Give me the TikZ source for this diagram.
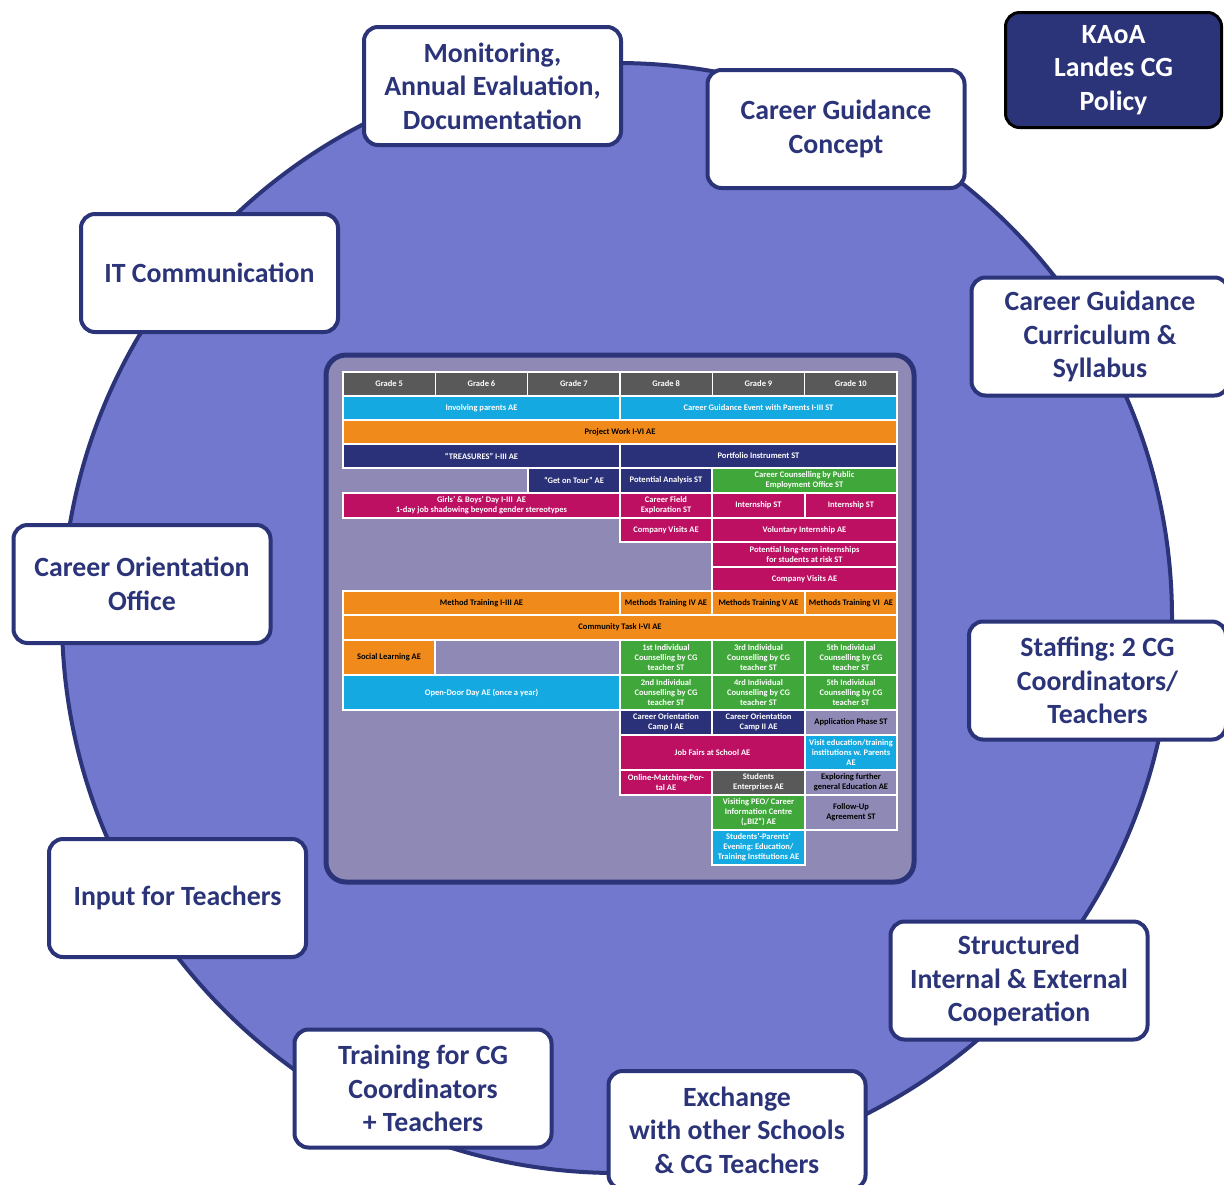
\documentclass[tikz,border=0pt]{standalone}
\usepackage{fontspec}
\setmainfont{Carlito}
\usepackage{xcolor}
\usetikzlibrary{positioning}
\frenchspacing

\definecolor{ringblue}{HTML}{7178CE}
\definecolor{navy}{HTML}{2B3478}
\definecolor{panelbg}{HTML}{8F8AB5}
\definecolor{gradegray}{HTML}{595959}
\definecolor{cgcyan}{HTML}{15A9E1}
\definecolor{cgorange}{HTML}{F08B1B}
\definecolor{cgnavy}{HTML}{2B3178}
\definecolor{cggreen}{HTML}{40A73A}
\definecolor{cgmagenta}{HTML}{BD1063}

\tikzset{
  topic/.style={draw=navy, line width=2pt, fill=white, rounded corners=7pt,
    minimum width=128.5pt, minimum height=59pt, align=center, text=navy,
    font=\fontsize{13.9}{16.8}\selectfont\bfseries},
  policy/.style={topic, draw=black, line width=1.5pt, fill=navy, text=white,
    minimum width=108pt, minimum height=57.5pt},
  cellbox/.style={draw=white, line width=0.6pt},
  celltext/.style={font=\fontsize{4.25}{5}\selectfont\bfseries, align=center, text=white, inner sep=0pt},
}

% one table cell: [text style]{name}{x1}{y1}{x2}{y2}{fill}{text}
\newcommand{\cgcell}[8][]{%
  \draw[cellbox, fill=#7] (#3,#4) rectangle (#5,#6) node[midway, celltext, #1] (#2) {#8};}

\begin{document}
\begin{tikzpicture}[x=0.5pt, y=-0.5pt]
\useasboundingbox (0,0) rectangle (1224,1184);

% ring and central panel
\draw[navy, line width=2pt, fill=ringblue] (617,618) circle [radius=555];
\draw[navy, line width=2.5pt, fill=panelbg, rounded corners=10pt] (326,355) rectangle (914,882);

% grade header
\foreach \g [count=\i from 0] in {5,...,10} {
  \pgfmathsetmacro{\xa}{343+92.33*\i}
  \pgfmathsetmacro{\xb}{343+92.33*(\i+1)}
  \cgcell{grade\g}{\xa}{372}{\xb}{396}{gradegray}{Grade \g}
}

% activities
\cgcell{involve}{343}{396}{620}{420}{cgcyan}{Involving parents AE}
\cgcell{parentevent}{620}{396}{897}{420}{cgcyan}{Career Guidance Event with Parents I-III ST}
\cgcell[text=black]{project}{343}{420}{897}{444}{cgorange}{Project Work I-VI AE}
\cgcell{treasures}{343}{444}{620}{468}{cgnavy}{“TREASURES” I-III AE}
\cgcell{portfolio}{620}{444}{897}{468}{cgnavy}{Portfolio Instrument ST}
\cgcell{tour}{528}{468}{620}{493}{cgnavy}{“Get on Tour” AE}
\cgcell{potential}{620}{468}{712}{493}{cgnavy}{Potential Analysis ST}
\cgcell{peo}{712}{468}{897}{493}{cggreen}{Career Counselling by Public\\Employment Office ST}
\cgcell{girlsday}{343}{493}{620}{518}{cgmagenta}{Girls’ \& Boys’ Day I-III\ \ AE\\1-day job shadowing beyond gender stereotypes}
\cgcell{fieldexp}{620}{493}{712}{518}{cgmagenta}{Career Field\\Exploration ST}
\cgcell{interniv}{712}{493}{805}{518}{cgmagenta}{Internship ST}
\cgcell{internv}{805}{493}{897}{518}{cgmagenta}{Internship ST}
\cgcell{visitsviii}{620}{518}{712}{542}{cgmagenta}{Company Visits AE}
\cgcell{voluntary}{712}{518}{897}{542}{cgmagenta}{Voluntary Internship AE}
\cgcell{longterm}{712}{542}{897}{567}{cgmagenta}{Potential long-term internships\\for students at risk ST}
\cgcell{visitsix}{712}{567}{897}{591}{cgmagenta}{Company Visits AE}
\cgcell[text=black]{method}{343}{591}{620}{615}{cgorange}{Method Training I-III AE}
\cgcell[text=black]{methodiv}{620}{591}{712}{615}{cgorange}{Methods Training IV AE}
\cgcell[text=black]{methodv}{712}{591}{805}{615}{cgorange}{Methods Training V AE}
\cgcell[text=black]{methodvi}{805}{591}{897}{615}{cgorange}{Methods Training VI\ \ AE}
\cgcell[text=black]{community}{343}{615}{897}{640}{cgorange}{Community Task I-VI AE}
\cgcell[text=black]{social}{343}{640}{435}{675}{cgorange}{Social Learning AE}
\cgcell{counseli}{620}{640}{712}{675}{cggreen}{1st Individual\\Counselling by CG\\teacher ST}
\cgcell{counseliii}{712}{640}{805}{675}{cggreen}{3rd Individual\\Counselling by CG\\teacher ST}
\cgcell{counselv}{805}{640}{897}{675}{cggreen}{5th Individual\\Counselling by CG\\teacher ST}
\cgcell{opendoor}{343}{675}{620}{710}{cgcyan}{Open-Door Day AE (once a year)}
\cgcell{counselii}{620}{675}{712}{710}{cggreen}{2nd Individual\\Counselling by CG\\teacher ST}
\cgcell{counseliv}{712}{675}{805}{710}{cggreen}{4rd Individual\\Counselling by CG\\teacher ST}
\cgcell{counselvb}{805}{675}{897}{710}{cggreen}{5th Individual\\Counselling by CG\\teacher ST}
\cgcell{campi}{620}{710}{712}{735}{cgnavy}{Career Orientation\\Camp I AE}
\cgcell{campii}{712}{710}{805}{735}{cgnavy}{Career Orientation\\Camp II AE}
\cgcell[text=black]{application}{805}{710}{897}{735}{panelbg}{Application Phase ST}
\cgcell{jobfairs}{620}{735}{805}{770}{cgmagenta}{Job Fairs at School AE}
\cgcell{visitinst}{805}{735}{897}{770}{cgcyan}{Visit education/training\\institutions w. Parents\\AE}
\cgcell{matching}{620}{770}{712}{795}{cgmagenta}{Online-Matching-Por-\\tal AE}
\cgcell{enterprises}{712}{770}{805}{795}{gradegray}{Students\\Enterprises AE}
\cgcell[text=black]{furtheredu}{805}{770}{897}{795}{panelbg}{Exploring further\\general Education AE}
\cgcell{biz}{712}{795}{805}{830}{cggreen}{Visiting PEO/ Career\\Information Centre\\(„BIZ“) AE}
\cgcell[text=black]{followup}{805}{795}{897}{830}{panelbg}{Follow-Up\\Agreement ST}
\cgcell{parentsevening}{712}{830}{805}{865}{cgcyan}{Students’-Parents’\\Evening: Education/\\Training Institutions AE}

% topics round the ring
\node[topic] (monitoring) at (492.5,86) {Monitoring,\\Annual Evaluation,\\Documentation};
\node[topic] (concept) at (836,129) {Career Guidance\\Concept};
\node[policy] (kaoa) at (1113.5,70) {KAoA\\Landes CG\\Policy};
\node[topic] (itcomm) at (209.5,273) {IT Communication};
\node[topic] (curriculum) at (1100,336.5) {Career Guidance\\Curriculum \&\\Syllabus};
\node[topic] (cooffice) at (142,584) {Career Orientation\\Office};
\node[topic] (staffing) at (1097.5,680.5) {Staffing: 2 CG\\Coordinators/\\Teachers};
\node[topic] (input) at (177.5,898) {Input for Teachers};
\node[topic] (cooperation) at (1019,980.5) {Structured\\Internal \& External\\Cooperation};
\node[topic] (training) at (423,1088.5) {Training for CG\\Coordinators\\+ Teachers};
\node[topic] (exchange) at (737,1130) {Exchange\\with other Schools\\\& CG Teachers};
\end{tikzpicture}
\end{document}
